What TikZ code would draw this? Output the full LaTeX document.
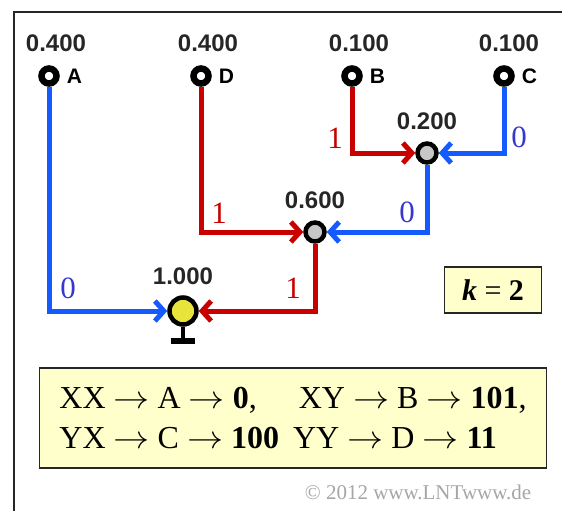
\documentclass[tikz,border=0pt]{standalone}
\usepackage{fontspec}
\setmainfont{Liberation Serif}
\newfontfamily\labelfont{Liberation Sans}
\usetikzlibrary{arrows.meta, positioning}
\definecolor{lblue}{RGB}{20, 90, 255}
\definecolor{lred}{RGB}{200, 0, 0}
\definecolor{bitblue}{RGB}{55, 55, 205}
\definecolor{boxyellow}{RGB}{255, 255, 204}
\definecolor{rootyellow}{RGB}{232, 228, 60}
\newcommand{\codearrow}{\scalebox{1.45}[1.3]{$\rightarrow$}}

\begin{document}
\begin{tikzpicture}[x=1pt, y=-1pt,
    leaf/.style={circle, draw=black, line width=6.5pt, fill=white, inner sep=0pt, minimum size=15pt},
    merge/.style={circle, draw=black, line width=4.5pt, fill=black!22, inner sep=0pt, minimum size=19pt},
    root/.style={circle, draw=black, line width=4.5pt, fill=rootyellow, inner sep=0pt, minimum size=27pt},
    prob/.style={font=\labelfont\bfseries\fontsize{24}{26}\selectfont, text=black!85, inner sep=1pt},
    letter/.style={font=\labelfont\bfseries\fontsize{21}{24}\selectfont, inner sep=1pt},
    branch/.style={line width=5pt, -{Straight Barb[length=9pt, width=20pt]}},
    zero/.style={branch, draw=lblue},
    one/.style={branch, draw=lred},
    bitzero/.style={font=\fontsize{31}{34}\selectfont, text=bitblue, inner sep=0pt},
    bitone/.style={font=\fontsize{31}{34}\selectfont, text=lred, inner sep=0pt},
    kbox/.style={draw=black!85, line width=1.3pt, fill=boxyellow, minimum width=97pt, minimum height=46pt, font=\fontsize{30}{32}\selectfont},
    codebox/.style={draw=black!85, line width=1.3pt, fill=boxyellow, minimum width=507pt, minimum height=100pt, align=left, font=\fontsize{32}{40}\selectfont}
]
    \useasboundingbox (0,0) rectangle (562,511);

    % Frame
    \draw[line width=1.5pt, black!85] (14,511) -- (14,12) -- (562,12);

    % Leaves
    \node[leaf] (A) at (49,76) {};
    \node[leaf] (D) at (201,76) {};
    \node[leaf] (B) at (352,76) {};
    \node[leaf] (C) at (504,76) {};
    \node[letter, right=6pt of A] (lA) {A};
    \node[letter, right=6pt of D] (lD) {D};
    \node[letter, right=6pt of B] (lB) {B};
    \node[letter, right=6pt of C] (lC) {C};
    \node[prob, above=12pt of A, xshift=7pt] (pA) {0.400};
    \node[prob, above=12pt of D, xshift=7pt] (pD) {0.400};
    \node[prob, above=12pt of B, xshift=7pt] (pB) {0.100};
    \node[prob, above=12pt of C, xshift=5pt] (pC) {0.100};

    % Merged nodes
    \node[merge] (BC) at (427,153) {};
    \node[merge] (BCD) at (315,232) {};
    \node[root] (top) at (183,311) {};
    \node[prob, above=10pt of BC] (pBC) {0.200};
    \node[prob, above=10pt of BCD] (pBCD) {0.600};
    \node[prob, above=9pt of top] (ptop) {1.000};

    % Branches
    \draw[one] (B) |- (BC);
    \draw[zero] (C) |- (BC);
    \draw[one] (D) |- (BCD);
    \draw[zero] (BC) |- (BCD);
    \draw[zero] (A) |- (top);
    \draw[one] (BCD) |- (top);

    % Bits
    \node[bitone] (b1) at (335,138) {1};
    \node[bitzero] (b2) at (519,137) {0};
    \node[bitone] (b3) at (219,213) {1};
    \node[bitzero] (b4) at (407,212) {0};
    \node[bitzero] (b5) at (68,288) {0};
    \node[bitone] (b6) at (293,288) {1};

    % Stem below root
    \coordinate (stem) at (183,341);
    \draw[line width=4.5pt] (top) -- (stem);
    \draw[line width=6pt] (stem) ++(-12,0) -- ++(24,0);

    % Boxes
    \node[kbox] (kval) at (493,290) {\textbf{\textit{k}} = \textbf{2}};
    \node[codebox] (codes) at (293,418) {XX \codearrow{} A \codearrow{} \textbf{0},\hspace{42pt}XY \codearrow{} B \codearrow{} \textbf{101},\\
        YX \codearrow{} C \codearrow{} \textbf{100}\hspace{14pt}YY \codearrow{} D \codearrow{} \textbf{11}};
    \node[text=black!35, font=\fontsize{21}{24}\selectfont] (copyr) at (418,492) {\textcopyright{} 2012 www.LNTwww.de};
\end{tikzpicture}
\end{document}
